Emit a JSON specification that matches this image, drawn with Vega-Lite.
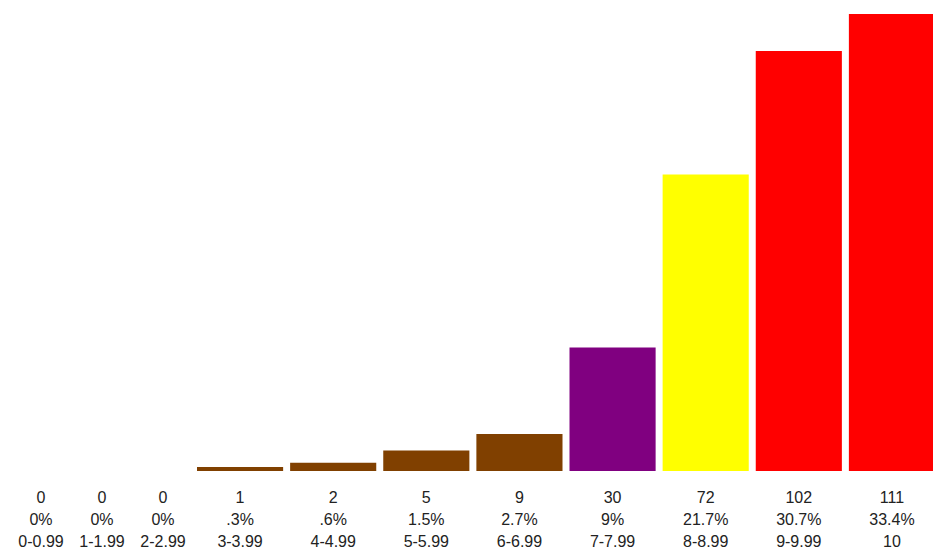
{
  "$schema": "https://vega.github.io/schema/vega-lite/v6.json",
  "width": 933,
  "height": 551,
  "autosize": "none",
  "padding": 0,
  "background": "white",
  "view": {"stroke": null},
  "data": {
    "values": [
      {"lo": 0, "hi": 1, "range": "0-0.99", "count": 0, "pct": "0%"},
      {"lo": 1, "hi": 2, "range": "1-1.99", "count": 0, "pct": "0%"},
      {"lo": 2, "hi": 3, "range": "2-2.99", "count": 0, "pct": "0%"},
      {"lo": 3, "hi": 4, "range": "3-3.99", "count": 1, "pct": ".3%"},
      {"lo": 4, "hi": 5, "range": "4-4.99", "count": 2, "pct": ".6%"},
      {"lo": 5, "hi": 6, "range": "5-5.99", "count": 5, "pct": "1.5%"},
      {"lo": 6, "hi": 7, "range": "6-6.99", "count": 9, "pct": "2.7%"},
      {"lo": 7, "hi": 8, "range": "7-7.99", "count": 30, "pct": "9%"},
      {"lo": 8, "hi": 9, "range": "8-8.99", "count": 72, "pct": "21.7%"},
      {"lo": 9, "hi": 10, "range": "9-9.99", "count": 102, "pct": "30.7%"},
      {"lo": 10, "hi": 11, "range": "10", "count": 111, "pct": "33.4%"}
    ]
  },
  "transform": [
    {"calculate": "(datum.lo + datum.hi) / 2", "as": "mid"},
    {"calculate": "datum.count + '\\n' + datum.pct + '\\n' + datum.range", "as": "label"}
  ],
  "layer": [
    {
      "mark": {"type": "bar", "xOffset": 3.5, "x2Offset": -3.5},
      "encoding": {
        "x": {"field": "lo", "type": "quantitative", "axis": null,
              "scale": {"domain": [0, 3, 11], "range": [10.5, 193.5, 938.5], "nice": false, "zero": false}},
        "x2": {"field": "hi"},
        "y": {"field": "count", "type": "quantitative", "axis": null,
              "scale": {"domain": [0, 111], "range": [471, 14], "nice": false}},
        "y2": {"datum": 0},
        "color": {"field": "range", "type": "nominal", "legend": null,
                  "scale": {"domain": ["0-0.99", "1-1.99", "2-2.99", "3-3.99", "4-4.99", "5-5.99", "6-6.99", "7-7.99", "8-8.99", "9-9.99", "10"],
                            "range": ["#804000", "#804000", "#804000", "#804000", "#804000", "#804000", "#804000", "#800080", "#FFFF00", "#FF0000", "#FF0000"]}}
      }
    },
    {
      "mark": {"type": "text", "font": "Liberation Sans", "fontSize": 16, "color": "#222222",
               "lineBreak": "\n", "lineHeight": 22, "align": "center", "baseline": "alphabetic", "dy": 32},
      "encoding": {
        "x": {"field": "mid", "type": "quantitative"},
        "y": {"datum": 0, "type": "quantitative"},
        "text": {"field": "label"}
      }
    }
  ]
}
